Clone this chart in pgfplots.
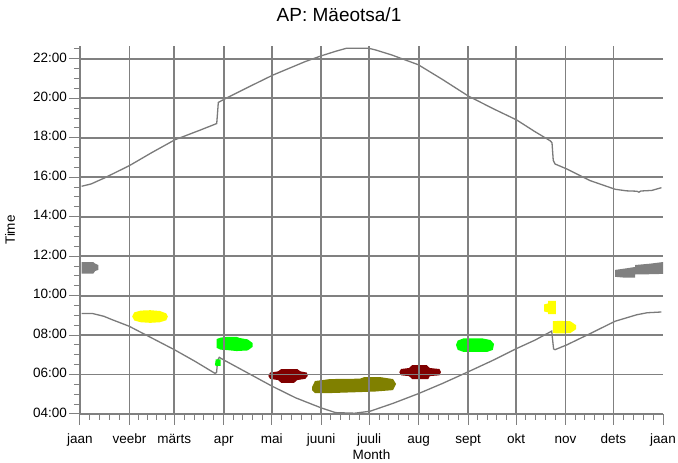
\documentclass[border=0pt]{standalone}
\usepackage{fontspec}
\setmainfont{Liberation Sans}
\usepackage{pgfplots}
\pgfplotsset{compat=1.18}
\definecolor{gridgray}{HTML}{808080}
\definecolor{curvegray}{HTML}{7A7A7A}
\definecolor{dred}{HTML}{800000}
\definecolor{olv}{HTML}{808000}
\definecolor{ylw}{HTML}{FFFF00}
\definecolor{grn}{HTML}{00FF00}
\begin{document}
\begin{tikzpicture}
\useasboundingbox (0,0) rectangle (678pt,463pt);
\begin{axis}[
  at={(80pt,49pt)}, anchor=south west,
  width=583pt, height=368pt, scale only axis,
  xmin=0, xmax=365, ymin=4, ymax=22.65,
  axis x line=bottom, axis y line=left,
  axis line style={gridgray, line width=1.6pt, -},
  axis on top,
  font=\fontsize{13.5}{16}\selectfont,
  xtick={0,31,59,90,120,151,181,212,243,273,304,334},
  xticklabels={jaan,veebr,märts,apr,mai,juuni,juuli,aug,sept,okt,nov,dets},
  extra x ticks={365}, extra x tick labels={jaan}, extra x tick style={grid=none},
  minor xtick={6.2,12.4,18.6,24.8,36.6,42.2,47.8,53.4,65.2,71.4,77.6,83.8,96,102,108,114,126.2,132.4,138.6,144.8,157,163,169,175,187.2,193.4,199.6,205.8,218.2,224.4,230.6,236.8,249,255,261,267,279.2,285.4,291.6,297.8,310,316,322,328,340.2,346.4,352.6,358.8},
  ytick={4,6,...,22},
  yticklabels={04:00,06:00,08:00,10:00,12:00,14:00,16:00,18:00,20:00,22:00},
  minor ytick={4.5,5,...,22.5},
  tick align=outside,
  major tick length=11pt, minor tick length=6pt,
  tick style={gridgray, line width=1pt},
  xmajorgrids, ymajorgrids,
  major grid style={gridgray, line width=1.8pt},
  typeset ticklabels with strut,
  yticklabel style={inner sep=2pt},
  xticklabel style={inner sep=2pt, yshift=-5pt},
  title={AP: Mäeotsa/1},
  title style={at={(axis description cs:0.4443,1)}, anchor=base, yshift=18pt, font=\fontsize{19}{22}\selectfont},
  xlabel={Month},
  xlabel style={at={(axis description cs:0.5,0)}, anchor=base, yshift=-46pt},
  ylabel={Time},
  ylabel style={at={(axis description cs:-0.1115,0.5)}, anchor=base, rotate=0},
]
% sunset
\addplot[curvegray, line width=1.3pt] coordinates {
(1,15.54)(7,15.66)(15,15.95)(31,16.59)(45,17.25)(59.5,17.9)(75,18.38)(85.6,18.72)(86.6,19.79)(90,19.94)(105,20.55)(120.6,21.17)(141,21.86)(151,22.15)(160,22.38)(167,22.54)(180.5,22.54)(185,22.45)(195,22.2)(211.8,21.7)(227,20.95)(243,20.12)(258,19.5)(273.4,18.9)(285,18.3)(294.3,17.85)(295.5,17.75)(296.3,16.85)(297.4,16.67)(304.7,16.42)(319.3,15.83)(335,15.39)(342,15.31)(348.6,15.29)(350,15.24)(351,15.3)(358,15.33)(364,15.47)};
% sunrise
\addplot[curvegray, line width=1.3pt] coordinates {
(1,9.09)(8,9.09)(15,8.95)(19.8,8.79)(30.7,8.45)(45,7.85)(59.5,7.24)(72,6.67)(84.5,6.06)(85.5,6.1)(86.2,6.73)(87.2,6.87)(90.2,6.73)(105,6.08)(120,5.42)(135,4.82)(151.3,4.3)(160,4.07)(172,4.04)(181.6,4.14)(196,4.54)(211.8,5.03)(227,5.55)(242,6.1)(258,6.7)(273.4,7.32)(285,7.75)(295.3,8.2)(296.5,7.3)(297.4,7.26)(304.7,7.5)(320,8.1)(335,8.7)(348.6,9.03)(355,9.13)(364,9.17)};
% blobs
\addplot[fill=gridgray, draw=none] coordinates {(1,11.70)(8.3,11.70)(9.5,11.62)(11.5,11.55)(11.5,11.3)(9.5,11.25)(8.3,11.11)(1,11.11)} --cycle;
\addplot[fill=ylw, draw=none] coordinates {(32.7,8.94)(34,9.15)(38,9.24)(44,9.26)(50,9.22)(54,9.1)(55,8.94)(54,8.75)(50,8.65)(44,8.62)(38,8.65)(34,8.74)} --cycle;
\addplot[fill=grn, draw=none] coordinates {(84.5,6.5)(85,6.77)(88,6.77)(88,6.44)(85,6.44)} --cycle;
\addplot[fill=grn, draw=none] coordinates {(85.6,7.35)(85.6,7.8)(88,7.87)(92,7.91)(98,7.91)(100,7.85)(105,7.78)(108,7.6)(108,7.4)(105,7.22)(98,7.19)(92,7.24)(88,7.26)} --cycle;
\addplot[fill=dred, draw=none] coordinates {(117.9,5.93)(119,6.1)(124,6.16)(126,6.28)(136,6.28)(138,6.16)(142,6.1)(142.6,5.93)(141,5.78)(136,5.72)(134,5.58)(126,5.58)(124,5.72)(119,5.78)} --cycle;
\addplot[fill=olv, draw=none] coordinates {(145.3,5.37)(147.1,5.67)(156.5,5.77)(175.3,5.79)(178,5.87)(187.9,5.87)(196,5.77)(197.9,5.52)(196,5.21)(185,5.14)(175.3,5.11)(156.5,5.06)(147.1,5.06)(145.3,5.21)} --cycle;
\addplot[fill=dred, draw=none] coordinates {(199.9,6.12)(201,6.28)(206,6.33)(208,6.48)(217,6.48)(219,6.33)(225,6.28)(226,6.12)(225,5.96)(219,5.92)(218,5.77)(208,5.77)(206,5.92)(201,5.96)} --cycle;
\addplot[fill=grn, draw=none] coordinates {(235.4,7.5)(236.5,7.72)(240,7.83)(252,7.83)(257,7.75)(259.2,7.55)(258.5,7.25)(255,7.15)(240,7.15)(236.5,7.25)} --cycle;
\addplot[fill=ylw, draw=none] coordinates {(290.5,9.2)(290.5,9.55)(293,9.6)(293,9.73)(297.9,9.73)(297.9,9.06)(293,9.06)(293,9.15)} --cycle;
\addplot[fill=ylw, draw=none] coordinates {(296,8.1)(296,8.7)(300,8.72)(307,8.7)(310.6,8.5)(310.6,8.3)(307,8.1)(300,8.08)} --cycle;
\addplot[fill=gridgray, draw=none] coordinates {(335,10.95)(335,11.3)(341,11.37)(347.5,11.45)(347.5,11.55)(357,11.62)(365,11.70)(365,11.1)(355,11.08)(347.5,11.08)(347.5,10.91)(341,10.91)} --cycle;
\end{axis}
\end{tikzpicture}
\end{document}
